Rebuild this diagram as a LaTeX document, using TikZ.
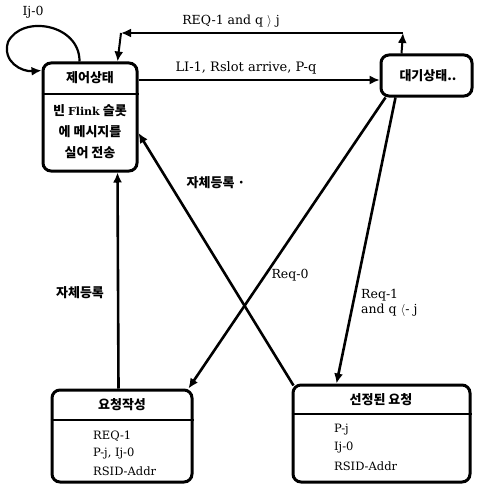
\documentclass[tikz,border=0pt]{standalone}
\usepackage{fontspec}
\setmainfont{DejaVu Serif}
\newfontfamily\kr{Noto Sans CJK KR}
\usetikzlibrary{arrows.meta,calc}
\begin{document}
\begin{tikzpicture}[x=1pt,y=-1pt,
  every node/.style={font=\fontsize{11.5}{14}\selectfont, inner sep=1pt},
  statebox/.style={draw, line width=3pt, rounded corners=8pt, inner sep=0pt},
  sepline/.style={line width=1.1pt},
  arr/.style={line width=2.6pt, -{Latex[length=10pt,width=9pt]}},
  thinarr/.style={line width=1.4pt, -{Latex[length=10pt,width=9pt]}},
  krt/.style={font=\kr\bfseries\fontsize{13}{15}\selectfont},
  lbl/.style={font=\fontsize{12.5}{15}\selectfont}]
\useasboundingbox (0,0) rectangle (479,487);

% boxes
\node[statebox, minimum width=94pt, minimum height=108pt] (ctrl) at (90,117) {};
\node[statebox, minimum width=91pt, minimum height=41pt] (wait) at (426.5,75.5) {};
\node[statebox, minimum width=140pt, minimum height=92pt] (req) at (122,436) {};
\node[statebox, minimum width=177pt, minimum height=97pt] (sel) at (381.5,433.5) {};

% separator lines
\coordinate (h1) at (0,94);
\coordinate (h2) at (0,420);
\coordinate (h3) at (0,414);
\draw[sepline] (ctrl.west |- h1) -- (ctrl.east |- h1);
\draw[sepline] (req.west |- h2) -- (req.east |- h2);
\draw[sepline] (sel.west |- h3) -- (sel.east |- h3);

% texts in boxes
\node[krt] (ctrlT) at (90,78) {제어상태};
\node[krt] (ctrlB1) at (90,111) {빈 \textrm{\bfseries\fontsize{11}{14}\selectfont Flink} 슬롯};
\node[krt] (ctrlB2) at (90,132) {에 메시지를};
\node[krt] (ctrlB3) at (90,153) {실어 전송};
\node[krt] (waitT) at (428,76) {대기상태..};
\node[krt] (reqT) at (122,405) {요청작성};
\node[anchor=west] (reqB1) at (92,436) {REQ-1};
\node[anchor=west] (reqB2) at (92,454) {P-j, Ij-0};
\node[anchor=west] (reqB3) at (92,471) {RSID-Addr};
\node[krt] (selT) at (381,400) {선정된 요청};
\node[anchor=west] (selB1) at (333,430) {P-j};
\node[anchor=west] (selB2) at (333,448) {Ij-0};
\node[anchor=west] (selB3) at (333,466) {RSID-Addr};

% self loop
\coordinate (ls) at ($(ctrl.north west)+(38,0)$);
\coordinate (le) at ($(ctrl.north west)+(0,9)$);
\draw[arr, line width=2.2pt] (ls) .. controls (80,24) and (22,14) .. (8,42) .. controls (2,62) and (22,72) .. (le);
\node[lbl] (loopL) at (33,12) {Ij-0};

% REQ-1 and q > j
\coordinate (cR) at (403,33);
\coordinate (cL) at (121,33);
\draw[arr, line width=2pt] ($(wait.north west)+(22,0)$) -- (cR);
\draw[arr, line width=2pt] (cR) -- (cL);
\draw[arr, line width=2pt] (cL) -- ($(ctrl.north west)+(76,0)$);
\node[lbl] (reqL) at (231,21) {REQ-1 and q $\rangle$ j};

% LI-1
\coordinate (y79) at (0,80);
\draw[thinarr] (ctrl.east |- y79) -- (wait.west |- y79);
\node[lbl, font=\fontsize{13}{15}\selectfont] (liL) at (246,68) {LI-1, Rslot arrive, P-q};

% Req-0
\draw[arr] ($(wait.south west)+(6,0)$) -- ($(req.north east)+(-5,0)$);
\node[lbl] (req0L) at (290,275) {Req-0};

% Req-1
\draw[arr] ($(wait.south west)+(16,0)$) -- ($(sel.north west)+(45,0)$);
\node[lbl, align=left, anchor=west] (req1L) at (360,303) {Req-1\\and q $\langle$- j};

% self registration from selected request
\draw[arr] ($(sel.north west)+(2,2)$) -- ($(ctrl.east)+(0,16)$);
\node[krt] (srL1) at (216,183) {자체등록 ·};

% self registration from request creation
\draw[arr] ($(req.north west)+(68,0)$) -- ($(ctrl.south west)+(76,0)$);
\node[krt] (srL2) at (80,293) {자체등록};
\end{tikzpicture}
\end{document}
